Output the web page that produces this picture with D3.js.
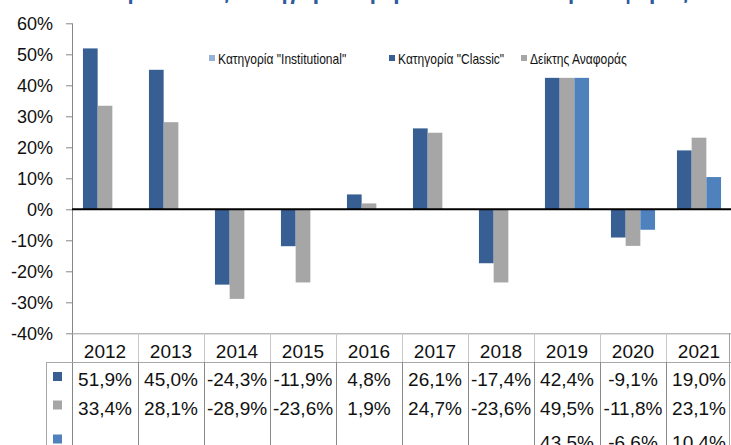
<!DOCTYPE html>
<html lang="el">
<head>
  <meta charset="UTF-8">
  <script src="https://d3js.org/d3.v7.min.js"></script>
  <style>
    body { margin: 0; background: white; }
    svg { display: block; font-family: "Liberation Sans", Arial, sans-serif; }
  </style>
</head>
<body>
  <div id="chart"></div>
  <script>
    // data
    const years = ["2012", "2013", "2014", "2015", "2016", "2017", "2018", "2019", "2020", "2021"];
    // bar heights as drawn (2019 bars all drawn at ~42.4%)
    const classic = [51.9, 45.0, -24.3, -11.9, 4.8, 26.1, -17.4, 42.4, -9.1, 19.0];
    const benchmark = [33.4, 28.1, -28.9, -23.6, 1.9, 24.7, -23.6, 42.4, -11.8, 23.1];
    const institutional = [null, null, null, null, null, null, null, 42.4, -6.6, 10.4];
    // table texts
    const classicText = ["51,9%", "45,0%", "-24,3%", "-11,9%", "4,8%", "26,1%", "-17,4%", "42,4%", "-9,1%", "19,0%"];
    const benchmarkText = ["33,4%", "28,1%", "-28,9%", "-23,6%", "1,9%", "24,7%", "-23,6%", "49,5%", "-11,8%", "23,1%"];
    const institutionalText = ["", "", "", "", "", "", "", "43,5%", "-6,6%", "10,4%"];
    const yTicks = [60, 50, 40, 30, 20, 10, 0, -10, -20, -30, -40];
    const legendNames = ['Κατηγορία "Institutional"', 'Κατηγορία "Classic"', "Δείκτης Αναφοράς"];

    const cDark = "#375f93", cGray = "#a6a6a6", cLight = "#4f81bd", cLegLight = "#95b3d7";

    const width = 731, height = 445;
    const svg = d3.select("#chart").append("svg")
      .attr("width", width).attr("height", height);

    const x = d3.scaleBand().domain(years).range([72, 732]);
    const y = d3.scaleLinear().domain([-40, 60]).range([333.3, 23.3]);
    const bw = 14.7;
    const groupOff = (x.bandwidth() - 3 * bw) / 2;

    // title, cut off at the top of the picture
    svg.append("text")
      .attr("x", 360).attr("y", -1)
      .attr("text-anchor", "middle")
      .style("font-size", "22px").style("font-weight", "bold")
      .style("fill", "#2f5b9a")
      .text("Απόδοση ανά έτος Κατηγοριών μεριδίων και Δείκτη Αναφοράς");

    // y axis
    const yAxis = d3.axisLeft(y).tickValues(yTicks).tickSize(6).tickFormat(d => d + "%");
    const ga = svg.append("g").attr("transform", "translate(72,0)").call(yAxis);
    ga.select(".domain").remove();
    ga.selectAll(".tick line").attr("stroke", "#868686");
    ga.selectAll(".tick text")
      .attr("x", -19)
      .style("font-size", "18px")
      .style("fill", "#111")
      .style("font-family", "'Liberation Sans', Arial, sans-serif");
    svg.append("line")
      .attr("x1", 72.5).attr("x2", 72.5).attr("y1", y(60)).attr("y2", height)
      .attr("stroke", "#868686");

    // bars
    const series = [
      { vals: classic, color: cDark, slot: 0 },
      { vals: benchmark, color: cGray, slot: 1 },
      { vals: institutional, color: cLight, slot: 2 }
    ];
    series.forEach(s => {
      svg.append("g").selectAll("rect")
        .data(years.map((yr, i) => ({ yr, v: s.vals[i] })).filter(d => d.v !== null))
        .join("rect")
        .attr("x", d => x(d.yr) + groupOff + s.slot * bw)
        .attr("width", bw)
        .attr("y", d => y(Math.max(0, d.v)))
        .attr("height", d => Math.abs(y(d.v) - y(0)))
        .attr("fill", s.color);
    });

    // zero line
    svg.append("line")
      .attr("x1", 72).attr("x2", width).attr("y1", y(0)).attr("y2", y(0))
      .attr("stroke", "#000").attr("stroke-width", 2);

    // legend (condensed text like the original narrow font)
    const legX = [209, 389, 521];
    const legColors = [cLegLight, cDark, cGray];
    legendNames.forEach((name, i) => {
      svg.append("rect")
        .attr("x", legX[i]).attr("y", 55).attr("width", 6).attr("height", 6)
        .attr("fill", legColors[i]);
      svg.append("text")
        .attr("transform", "translate(" + (legX[i] + 9) + ",63.5) scale(0.86,1)")
        .style("font-size", "14px")
        .style("fill", "#111")
        .text(name);
    });

    // data table
    const tTop = y(-40), hdrBot = 362;
    svg.append("line").attr("x1", 72).attr("x2", width).attr("y1", tTop + 0.5).attr("y2", tTop + 0.5)
      .attr("stroke", "#9a9a9a");
    svg.append("line").attr("x1", 46).attr("x2", width).attr("y1", hdrBot + 0.5).attr("y2", hdrBot + 0.5)
      .attr("stroke", "#a8a8a8");
    svg.append("line").attr("x1", 46.5).attr("x2", 46.5).attr("y1", hdrBot).attr("y2", height)
      .attr("stroke", "#a8a8a8");
    years.forEach((yr, i) => {
      if (i === 0) return;
      const xx = Math.round(x(yr)) + 0.5;
      svg.append("line").attr("x1", xx).attr("x2", xx).attr("y1", tTop).attr("y2", hdrBot)
        .attr("stroke", "#c8c8c8");
      svg.append("line").attr("x1", xx).attr("x2", xx).attr("y1", hdrBot).attr("y2", height)
        .attr("stroke", "#8a8a8a");
    });
    const xEnd = Math.round(x.range()[1]) - 2.5;
    svg.append("line").attr("x1", xEnd).attr("x2", xEnd).attr("y1", tTop).attr("y2", height)
      .attr("stroke", "#a0a0a0");

    svg.append("g").selectAll("text").data(years).join("text")
      .attr("x", d => x(d) + x.bandwidth() / 2).attr("y", 357.5)
      .attr("text-anchor", "middle")
      .style("font-size", "19px").style("fill", "#111")
      .text(d => d);

    const rows = [
      { texts: classicText, color: cDark, base: 386 },
      { texts: benchmarkText, color: cGray, base: 414.5 },
      { texts: institutionalText, color: cLight, base: 448.5 }
    ];
    rows.forEach(r => {
      svg.append("rect")
        .attr("x", 53).attr("y", r.base - 14).attr("width", 9).attr("height", 9)
        .attr("fill", r.color);
      svg.append("g").selectAll("text").data(years).join("text")
        .attr("x", d => x(d) + x.bandwidth() / 2).attr("y", r.base)
        .attr("text-anchor", "middle")
        .style("font-size", "19px").style("fill", "#111")
        .text((d, i) => r.texts[i]);
    });
  </script>
</body>
</html>
